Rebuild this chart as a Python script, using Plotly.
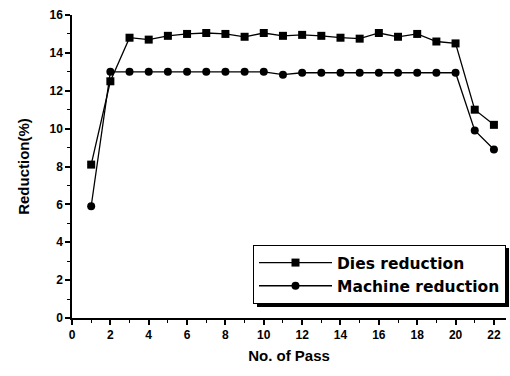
import plotly.graph_objects as go

passes = list(range(1, 23))
dies_reduction = [8.1, 12.5, 14.8, 14.7, 14.9, 15.0, 15.05, 15.0, 14.85, 15.05, 14.9,
                  14.95, 14.9, 14.8, 14.75, 15.05, 14.85, 15.0, 14.6, 14.5, 11.0, 10.2]
machine_reduction = [5.9, 13.0, 13.0, 13.0, 13.0, 13.0, 13.0, 13.0, 13.0, 13.0, 12.85,
                     12.95, 12.95, 12.95, 12.95, 12.95, 12.95, 12.95, 12.95, 12.95, 9.9, 8.9]
x_ticks = list(range(0, 23, 2))
y_ticks = list(range(0, 17, 2))

font_family = "Liberation Sans, Arial, sans-serif"
legend_family = "DejaVu Sans, sans-serif"

L, R, T, B = 72, 4, 15, 58
W, H = 510, 376
PW, PH = W - L - R, H - T - B

def px_x(p):
    return (p - L) / PW

def px_y(p):
    return (H - B - p) / PH

fig = go.Figure()
fig.add_trace(go.Scatter(
    x=passes, y=dies_reduction, mode="lines+markers", name="<b>Dies reduction</b>",
    line=dict(color="black", width=1.3),
    marker=dict(symbol="square", size=8, color="black")))
fig.add_trace(go.Scatter(
    x=passes, y=machine_reduction, mode="lines+markers", name="<b>Machine reduction</b>",
    line=dict(color="black", width=1.3),
    marker=dict(symbol="circle", size=8, color="black")))

axis_common = dict(
    showgrid=False, zeroline=False, showline=True, linecolor="black", linewidth=1.5,
    ticks="outside", tickcolor="black", ticklen=5, tickwidth=1.5,
    minor=dict(ticks="outside", ticklen=3, tickcolor="black", tickwidth=1.2, dtick=1),
    tickfont=dict(family=font_family, size=12, color="black", weight="bold"),
)

fig.update_layout(
    width=W, height=H,
    margin=dict(l=L, r=R, t=T, b=B),
    paper_bgcolor="white", plot_bgcolor="white",
    font=dict(family=font_family, color="black"),
    showlegend=True,
    legend=dict(
        x=1.0, y=px_y(304), xanchor="right", yanchor="bottom",
        bordercolor="black", borderwidth=1, bgcolor="white",
        font=dict(family=legend_family, size=15.5, color="black"),
        itemwidth=73, tracegroupgap=0,
    ),
    shapes=[dict(type="rect", xref="paper", yref="paper",
                 x0=px_x(257), x1=px_x(509), y0=px_y(307), y1=px_y(248),
                 fillcolor="black", line=dict(width=0), layer="above")],
    xaxis=dict(axis_common, range=[0, 22.63], tickvals=x_ticks,
               title=dict(text="<b>No. of Pass</b>", standoff=9,
                          font=dict(family=font_family, size=15, color="black"))),
    yaxis=dict(axis_common, range=[0, 16], tickvals=y_ticks,
               title=dict(text="<b>Reduction(%)</b>", standoff=16,
                          font=dict(family=font_family, size=15, color="black"))),
)

fig.write_html("out.html")
